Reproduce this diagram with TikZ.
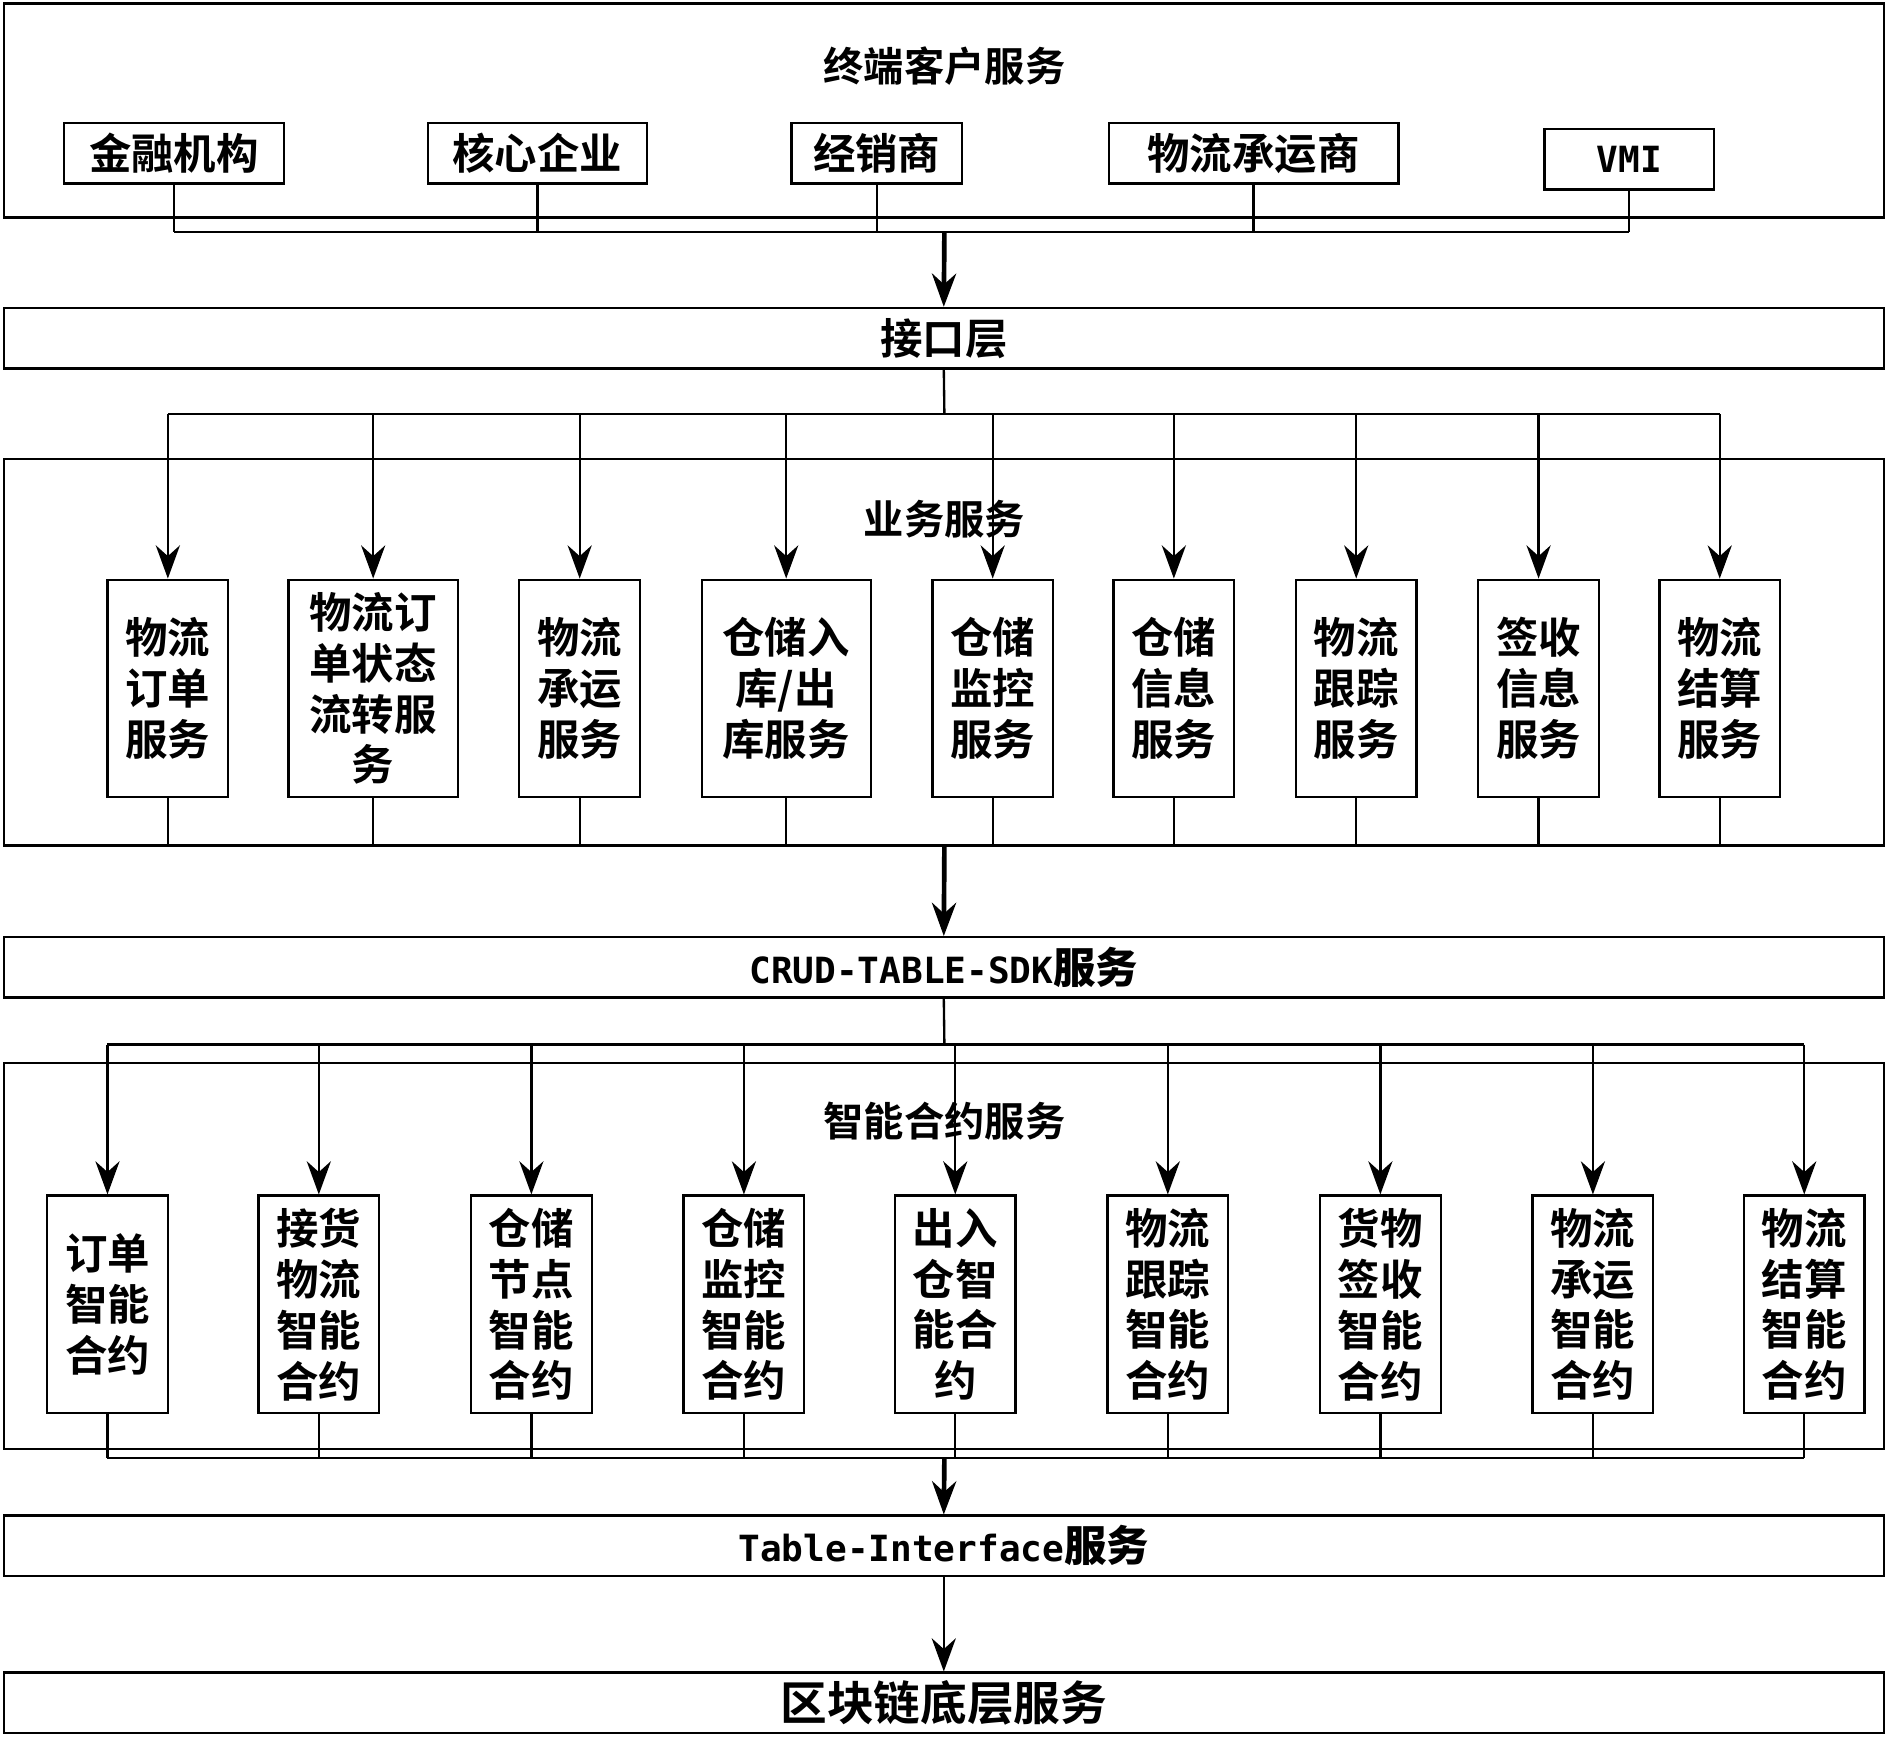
\documentclass[tikz,border=0pt]{standalone}
\usepackage{fontspec}
\setmainfont{Noto Sans CJK SC Bold}
\setmonofont{DejaVu Sans Mono}
\usetikzlibrary{arrows.meta,positioning}

\begin{document}
\begin{tikzpicture}[x=0.02cm,y=-0.02cm,line width=1.1pt,
  >={Stealth[length=0.55cm,width=0.4cm]},
  layer/.style={draw,minimum width=31.14cm,minimum height=1cm,inner sep=0pt,font=\fontsize{20}{22}\selectfont},
  frame/.style={draw,minimum width=31.14cm,inner sep=0pt},
  cust/.style={draw,minimum height=1cm,inner sep=0pt,font=\fontsize{20}{22}\selectfont},
  svc/.style={draw,minimum width=2cm,minimum height=3.6cm,inner sep=1pt,align=center,
    font=\fontsize{20}{24}\selectfont},
  latin/.style={font=\ttfamily\bfseries\fontsize{17}{20}\selectfont},
  title/.style={font=\fontsize{19}{22}\selectfont}]
  \useasboundingbox (0,0) rectangle (1565,1438);

  % top: end customers
  \node[frame,minimum height=3.54cm] (top) at (781.5,91.5) {};
  \node[title] (toptitle) at (782,55) {终端客户服务};
  \node[cust,minimum width=3.64cm] (c1) at (144,127) {金融机构};
  \node[cust,minimum width=3.62cm] (c2) at (445,127) {核心企业};
  \node[cust,minimum width=2.82cm] (c3) at (726,127) {经销商};
  \node[cust,minimum width=4.8cm] (c4) at (1038,127) {物流承运商};
  \node[cust,minimum width=2.8cm,latin] (c5) at (1349,132) {VMI};
  \coordinate (topL) at (144,192);
  \coordinate (topR) at (1349,192);
  \coordinate (topM) at (782,192);
  \foreach \n in {c1,c2,c3,c4,c5}
    \draw (\n.south) -- (\n.south |- topM);
  \draw (topL) -- (topR);

  \node[layer] (iface) at (781.5,280) {接口层};
  \draw[->,line width=2.2pt] (topM) -- (iface.north);

  % business services
  \node[frame,minimum height=6.4cm] (biz) at (781.5,540) {};
  \node[title] (biztitle) at (782,430) {业务服务};
  \coordinate (bizHub) at (782,343);
  \draw (iface.south) -- (bizHub);
  \draw (139,343) -- (1424,343);
  \foreach \x/\w/\t [count=\i] in {139/2/{物流\\订单\\服务},309/2.8/{物流订\\单状态\\流转服\\务},
      480/2/{物流\\承运\\服务},651/2.8/{仓储入\\库/出\\库服务},822/2/{仓储\\监控\\服务},
      972/2/{仓储\\信息\\服务},1123/2/{物流\\跟踪\\服务},1274/2/{签收\\信息\\服务},1424/2/{物流\\结算\\服务}}{
    \node[svc,minimum width=\w cm] (s\i) at (\x,570) {\t};
    \draw[->] (\x,343) -- (s\i.north);
    \draw (s\i.south) -- (\x,700);
  }
  \draw (139,700) -- (1424,700);

  \node[layer,latin] (crud) at (781.5,801) {CRUD-TABLE-SDK{\rmfamily\fontsize{20}{22}\selectfont 服务}};
  \draw[->,line width=2.2pt] (782,700) -- (crud.north);

  % smart contracts
  \node[frame,minimum height=6.4cm] (sc) at (781.5,1040) {};
  \node[title] (sctitle) at (782,928) {智能合约服务};
  \draw (crud.south) -- (782,865);
  \draw (89,865) -- (1494,865);
  \foreach \x/\t [count=\i] in {89/{订单\\智能\\合约},264/{接货\\物流\\智能\\合约},440/{仓储\\节点\\智能\\合约},
      616/{仓储\\监控\\智能\\合约},791/{出入\\仓智\\能合\\约},967/{物流\\跟踪\\智能\\合约},
      1143/{货物\\签收\\智能\\合约},1319/{物流\\承运\\智能\\合约},1494/{物流\\结算\\智能\\合约}}{
    \node[svc] (k\i) at (\x,1080) {\t};
    \draw[->] (\x,865) -- (k\i.north);
    \draw (k\i.south) -- (\x,1207);
  }
  \draw (89,1207) -- (1494,1207);

  \node[layer,latin] (tab) at (781.5,1280) {Table-Interface{\rmfamily\fontsize{20}{22}\selectfont 服务}};
  \draw[->,line width=2.2pt] (782,1207) -- (tab.north);

  \node[layer,font=\fontsize{22}{24}\selectfont] (chain) at (781.5,1410) {区块链底层服务};
  \draw[->] (tab.south) -- (chain.north);
\end{tikzpicture}
\end{document}
